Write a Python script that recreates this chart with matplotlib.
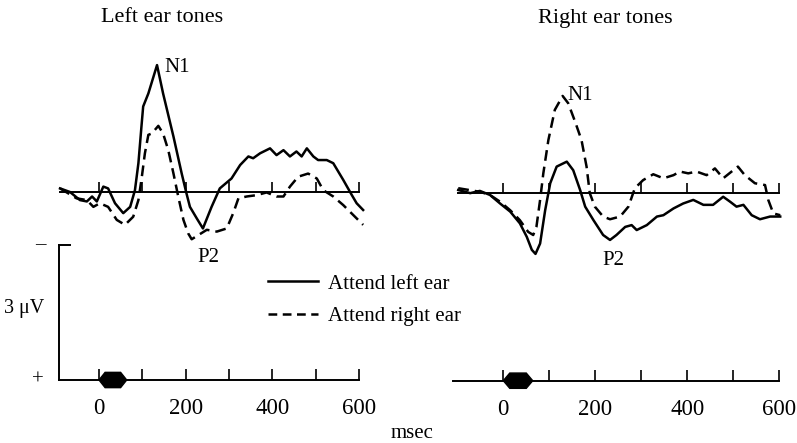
import matplotlib
matplotlib.use("Agg")
import matplotlib.pyplot as plt
from matplotlib.patches import Polygon
from matplotlib.lines import Line2D

plt.rcParams["font.family"] = ["Liberation Serif", "DejaVu Serif"]

# ERP traces, time in msec, amplitude in microvolts (negative plotted up)
left_solid_t = [-90, -67, -44, -28, -16, -5, 10, 21, 37, 56, 72, 83, 91, 98, 102, 114,
                134, 148, 172, 191, 202, 210, 226, 240, 260, 279, 306, 326, 345, 356,
                372, 395, 410, 426, 441, 456, 468, 480, 495, 506, 526, 541, 564, 584,
                595, 610]
left_solid_v = [-0.08, 0.0, 0.18, 0.21, 0.10, 0.21, -0.12, -0.08, 0.25, 0.47, 0.33, -0.04,
                -0.64, -1.45, -1.90, -2.19, -2.82, -2.19, -1.23, -0.41, 0.03, 0.33, 0.59,
                0.81, 0.33, -0.08, -0.30, -0.60, -0.79, -0.75, -0.86, -0.97, -0.82, -0.93,
                -0.79, -0.90, -0.79, -0.97, -0.79, -0.71, -0.71, -0.64, -0.27, 0.07, 0.25,
                0.40]
left_dash_t = [-90, -52, -28, -13, 2, 21, 41, 60, 79, 91, 98, 106, 114, 122, 137, 148,
               160, 172, 183, 195, 206, 214, 229, 249, 272, 295, 310, 322, 341, 364, 387,
               410, 426, 441, 460, 483, 503, 518, 541, 564, 587, 610]
left_dash_v = [-0.08, 0.14, 0.18, 0.33, 0.25, 0.33, 0.62, 0.73, 0.55, 0.18, -0.27, -0.86,
               -1.27, -1.30, -1.47, -1.30, -0.93, -0.41, 0.10, 0.62, 0.92, 1.05, 0.96, 0.84,
               0.88, 0.81, 0.47, 0.14, 0.10, 0.07, 0.01, 0.10, 0.10, -0.12, -0.34, -0.41,
               -0.30, -0.04, 0.10, 0.29, 0.51, 0.73]

right_solid_t = [-98, -72, -51, -29, -7, 15, 36, 51, 62, 70, 80, 91, 102, 116, 138, 152,
                 167, 178, 196, 217, 232, 246, 265, 279, 290, 312, 334, 348, 370, 391,
                 413, 435, 456, 478, 493, 507, 522, 540, 558, 580, 602]
right_solid_v = [-0.06, 0.01, -0.04, 0.05, 0.24, 0.42, 0.68, 0.98, 1.27, 1.36, 1.13, 0.39,
                 -0.21, -0.58, -0.69, -0.50, -0.06, 0.31, 0.61, 0.94, 1.05, 0.94, 0.76,
                 0.72, 0.83, 0.72, 0.53, 0.50, 0.35, 0.24, 0.16, 0.27, 0.27, 0.09, 0.20,
                 0.31, 0.27, 0.50, 0.59, 0.53, 0.53]
right_dash_t = [-98, -51, -29, -7, 15, 36, 54, 65, 72, 80, 87, 98, 112, 129, 141, 156,
                170, 181, 188, 199, 217, 232, 254, 272, 286, 304, 326, 348, 370, 384, 402,
                420, 442, 460, 478, 500, 510, 525, 547, 569, 576, 587, 602]
right_dash_v = [-0.10, -0.02, 0.05, 0.20, 0.39, 0.61, 0.87, 0.94, 0.76, 0.16, -0.43, -1.17,
                -1.84, -2.15, -1.99, -1.58, -1.17, -0.58, 0.01, 0.31, 0.53, 0.59, 0.53,
                0.31, -0.10, -0.28, -0.41, -0.32, -0.39, -0.47, -0.43, -0.47, -0.39, -0.54,
                -0.32, -0.50, -0.58, -0.39, -0.21, -0.17, 0.16, 0.46, 0.50]

titles = ["Left ear tones", "Right ear tones"]
legend_labels = ["Attend left ear", "Attend right ear"]
time_ticks = [0, 200, 400, 600]
minor_ticks = [100, 300, 500]
stim_onset, stim_offset = 0, 64
scale_uv = 3

W, H = 797, 443
PX_PER_UV = 45
DASH = (4.3, 2.4)

fig = plt.figure(figsize=(W / 100, H / 100), dpi=100)


def px_axes(x0, x1, y0, y1):
    return fig.add_axes([x0 / W, 1 - y1 / H, (x1 - x0) / W, (y1 - y0) / H])


def draw_panel(zero_px, px_per_ms, base_px, axis_px, base_start, t_start, solid, dash,
               title, n1_pos, p2_pos, title_t, scale_bar=False):
    xlim = (-115, 620)
    x0 = zero_px + px_per_ms * xlim[0]
    x1 = zero_px + px_per_ms * xlim[1]

    # waveform axes
    top = px_axes(x0, x1, base_px - 3.4 * PX_PER_UV, base_px + 1.6 * PX_PER_UV)
    top.set_xlim(*xlim)
    top.set_ylim(1.6, -3.4)
    for s in ["top", "left", "right"]:
        top.spines[s].set_visible(False)
    top.spines["bottom"].set_position(("data", 0))
    top.spines["bottom"].set_bounds(base_start, 600)
    top.spines["bottom"].set_linewidth(1.4)
    top.set_yticks([])
    top.set_xticks(range(0, 700, 100))
    top.tick_params(axis="x", direction="in", length=7, width=1.2, labelbottom=False)
    top.patch.set_visible(False)

    top.plot(solid[0], solid[1], color="black", lw=1.8, solid_joinstyle="round")
    top.plot(dash[0], dash[1], color="black", lw=1.8, dashes=DASH)

    top.text(title_t, -3.87, title, ha="center", va="center", fontsize=16)
    top.text(n1_pos[0], n1_pos[1], "N1", ha="center", va="center", fontsize=15)
    top.text(p2_pos[0], p2_pos[1], "P2", ha="center", va="center", fontsize=15)

    # time axis
    bot = px_axes(x0, x1, axis_px - 3.3 * PX_PER_UV, axis_px + 0.4 * PX_PER_UV)
    bot.set_xlim(*xlim)
    bot.set_ylim(0.4, -3.3)
    for s in ["top", "left", "right"]:
        bot.spines[s].set_visible(False)
    bot.spines["bottom"].set_position(("data", 0))
    bot.spines["bottom"].set_bounds(t_start, 600)
    bot.spines["bottom"].set_linewidth(1.4)
    bot.set_yticks([])
    bot.set_xticks(time_ticks)
    bot.set_xticklabels([str(t) for t in time_ticks])
    bot.set_xticks(minor_ticks, minor=True)
    bot.tick_params(axis="x", which="both", direction="in", length=8, width=1.2,
                    labelsize=16.5, pad=13)
    bot.patch.set_visible(False)

    h = 0.17
    d = (stim_offset - stim_onset) * 0.22
    hexagon = [(stim_onset, 0), (stim_onset + d, -h), (stim_offset - d, -h),
               (stim_offset, 0), (stim_offset - d, h), (stim_onset + d, h)]
    bot.add_patch(Polygon(hexagon, closed=True, color="black"))

    if scale_bar:
        bot.plot([t_start, t_start], [0, -scale_uv], color="black", lw=1.4)
        bot.plot([t_start, t_start + 25], [-scale_uv, -scale_uv], color="black", lw=1.4)
        bot.annotate("\u2013", xy=(t_start, -scale_uv), xytext=(-10, 0),
                     textcoords="offset points", ha="right", va="center", fontsize=15)
        bot.annotate("+", xy=(t_start, 0), xytext=(-11, 0),
                     textcoords="offset points", ha="right", va="center", fontsize=15)
        bot.annotate("3 \u03bcV", xy=(t_start, -1.6), xytext=(-11, 0),
                     textcoords="offset points", ha="right", va="center", fontsize=14.5)


draw_panel(99, 0.433, 192, 380, -90, -92, (left_solid_t, left_solid_v),
           (left_dash_t, left_dash_v), titles[0], (180, -2.76), (252, 1.45), 145,
           scale_bar=True)
draw_panel(503.3, 0.46, 192.7, 380.7, -98, -110, (right_solid_t, right_solid_v),
           (right_dash_t, right_dash_v), titles[1], (167, -2.17), (240, 1.5), 221)

handles = [Line2D([], [], color="black", lw=1.8),
           Line2D([], [], color="black", lw=1.8, dashes=(3.5, 2.2))]
fig.legend(handles, legend_labels, loc="center left",
           bbox_to_anchor=(268 / W, 1 - 300 / H), frameon=False, fontsize=15,
           handlelength=2.4, handletextpad=0.5, labelspacing=0.62,
           borderpad=0, borderaxespad=0)

fig.text(412 / W, 1 - 433 / H, "msec", ha="center", va="center", fontsize=15)

fig.savefig("out.png", dpi=100)
